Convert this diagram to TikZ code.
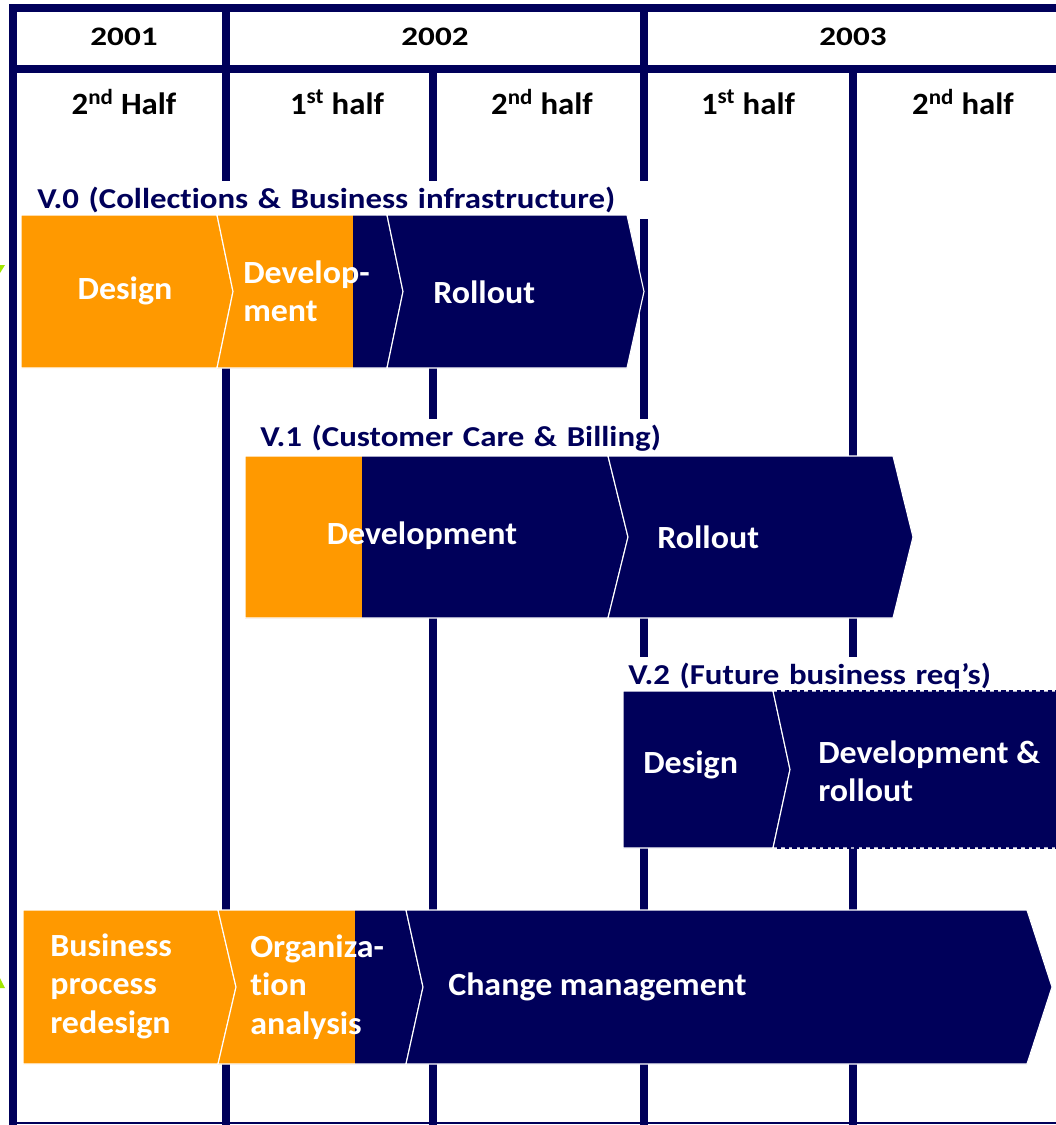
\documentclass[tikz,border=0pt]{standalone}
\usepackage{fontspec}
\setmainfont{Carlito}
\newfontfamily\yrfont{Carlito}[FakeStretch=1.24]
\newfontfamily\hffont{Carlito}[FakeStretch=1.06]
\newfontfamily\ttlfont{Carlito}[FakeStretch=1.14, Ligatures=NoCommon]
\newfontfamily\lblfont{Carlito}[FakeStretch=1.05, Ligatures=NoCommon]
\usepackage{tikz}
\definecolor{navy}{RGB}{0,0,90}
\definecolor{orng}{RGB}{255,153,0}
\definecolor{lime}{RGB}{160,230,0}
\newcommand{\chev}[8]{%
  \filldraw[fill=#1, draw=white, line width=0.8pt,
    path picture={\fill[orng] (#2-2,#6-2) rectangle (#8,#7+2);}]
  (#2,#6) -- (#4,#6) -- ({#4+#5},{(#6+#7)/2}) -- (#4,#7) -- (#2,#7)
  -- ({#2+#3},{(#6+#7)/2}) -- cycle;}

\begin{document}
\begin{tikzpicture}[x=0.025cm, y=-0.025cm,
  grid/.style={navy, line width=5pt},
  yr/.style={font=\yrfont\bfseries\fontsize{19}{22}\selectfont, text=black},
  hf/.style={font=\hffont\bfseries\fontsize{22}{25}\selectfont, text=black},
  ttl/.style={fill=white, anchor=west, align=left, minimum height=0.95cm,
    font=\ttlfont\bfseries\fontsize{20.5}{24}\selectfont, text=navy},
  lbl/.style={text=white, align=left, inner sep=0pt,
    font=\lblfont\bfseries\fontsize{23}{27.3}\selectfont}
]
\useasboundingbox (0,0) rectangle (1055,1125);
\fill[white] (0,0) rectangle (1055,1125);
\draw[grid] (9,8) -- (1060,8);
\draw[grid] (9,69) -- (1060,69);
\draw[grid] (13,4) -- (13,1125);
\draw[grid] (226,4) -- (226,1125);
\draw[grid] (644,4) -- (644,1125);
\draw[grid] (433,69) -- (433,1125);
\draw[grid] (853,69) -- (853,1125);
\draw[navy, line width=2pt] (9,1123) -- (1060,1123);
\fill[lime] (0,265) -- (5,265) -- (0,273) -- cycle;
\fill[lime] (0,978) -- (5,988) -- (0,988) -- cycle;

\node[yr] (y2001) at (124,37) {2001};
\node[yr] (y2002) at (435,37) {2002};
\node[yr] (y2003) at (853,37) {2003};
\node[hf] (h01b) at (124,102) {2\textsuperscript{nd} Half};
\node[hf] (h02a) at (337,102) {1\textsuperscript{st} half};
\node[hf] (h02b) at (542,102) {2\textsuperscript{nd} half};
\node[hf] (h03a) at (748,102) {1\textsuperscript{st} half};
\node[hf] (h03b) at (963,102) {2\textsuperscript{nd} half};

\node[ttl, inner xsep=0.375cm, text width=14.95cm] (v0) at (22,200)
  {V.0 (Collections \& Business infrastructure)};
\node[ttl, inner xsep=0.5cm, text width=10.5cm] (v1) at (240,438)
  {V.1 (Customer Care \& Billing)};
\node[ttl, inner xsep=0.125cm, text width=9.175cm] (v2) at (623,676)
  {V.2 (Future business req’s)};

\chev{orng}{21}{0}{217}{16}{215}{368}{0}
\chev{navy}{217}{16}{387}{16}{215}{368}{353}
\chev{navy}{387}{16}{627}{17}{215}{368}{0}
\node[lbl] (v0des) at (125,291) {Design};
\node[lbl, anchor=west] (v0dev) at (243,291) {Develop-\\ment};
\node[lbl, anchor=west] (v0rol) at (433,292) {Rollout};

\chev{navy}{245}{0}{608}{20}{456}{618}{362}
\chev{navy}{608}{20}{893}{20}{456}{618}{0}
\node[lbl] (v1dev) at (422,536) {Development};
\node[lbl, anchor=west] (v1rol) at (657,537) {Rollout};

\chev{navy}{623}{0}{773}{17}{691}{848}{0}
\chev{navy}{773}{17}{1075}{20}{691}{848}{0}
\draw[navy, line width=1pt, dash pattern=on 3pt off 2.5pt] (777,691) -- (1060,691);
\draw[navy, line width=1pt, dash pattern=on 3pt off 2.5pt] (777,848) -- (1060,848);
\node[lbl, anchor=west] (v2des) at (643,765) {Design};
\node[lbl, anchor=west] (v2dev) at (818,771) {Development \&\\rollout};

\chev{orng}{23}{0}{218}{18}{910}{1064}{0}
\chev{navy}{218}{18}{406}{17}{910}{1064}{355}
\chev{navy}{406}{17}{1027}{25}{910}{1064}{0}
\node[lbl, anchor=west] (bpr) at (50,986) {Business\\process\\redesign};
\node[lbl, anchor=west] (org) at (250,987) {Organiza-\\tion\\analysis};
\node[lbl, anchor=west] (chg) at (448,987) {Change management};
\end{tikzpicture}
\end{document}
